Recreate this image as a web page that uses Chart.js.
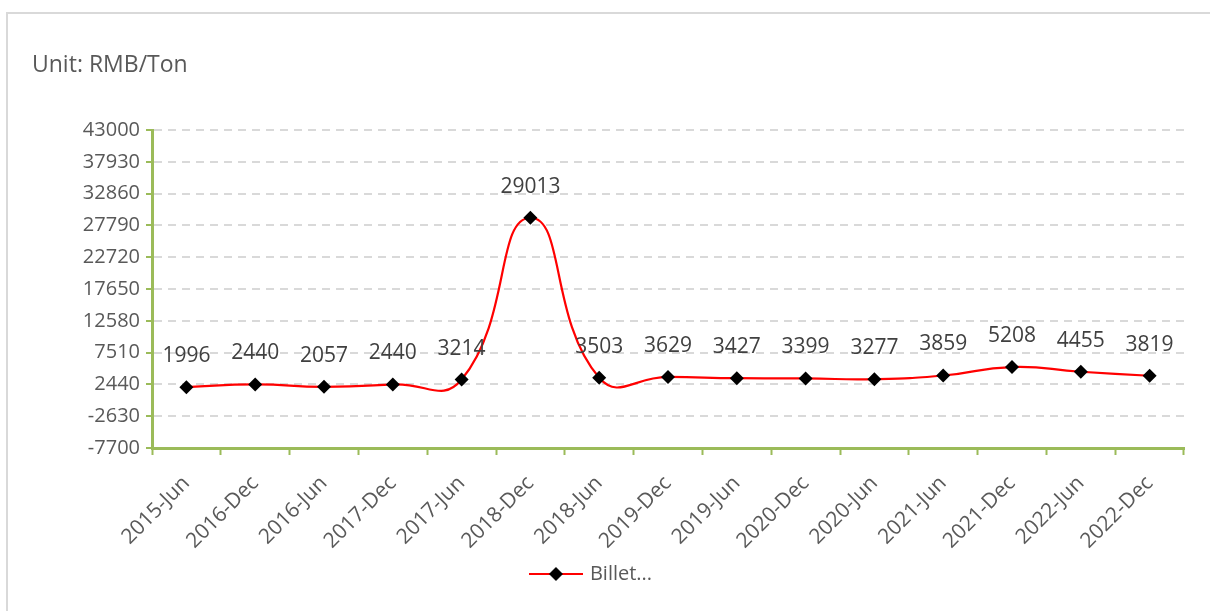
<!DOCTYPE html>
<html>
<head>
<meta charset="utf-8">
<script src="https://cdn.jsdelivr.net/npm/chart.js@4/dist/chart.umd.min.js"></script>
<style>
    html, body { margin: 0; padding: 0; background: #fff; overflow: hidden; }
    #frame { position: absolute; left: 6px; top: 12px; width: 1300px; height: 700px; border: 2px solid #d9d9d9; }
    #wrap { position: absolute; left: 0; top: 0; width: 1210px; height: 611px; }
</style>
</head>
<body>
<div id="frame"></div>
<div id="wrap"><canvas id="chart" width="1210" height="611"></canvas></div>
<script>
const categories = ["2015-Jun", "2016-Dec", "2016-Jun", "2017-Dec", "2017-Jun", "2018-Dec", "2018-Jun",
    "2019-Dec", "2019-Jun", "2020-Dec", "2020-Jun", "2021-Jun", "2021-Dec", "2022-Jun", "2022-Dec"];
const billetValues = [1996, 2440, 2057, 2440, 3214, 29013, 3503, 3629, 3427, 3399, 3277, 3859, 5208, 4455, 3819];
const yTicks = [-7700, -2630, 2440, 7510, 12580, 17650, 22720, 27790, 32860, 37930, 43000];
const seriesName = "Billet...";
const unitText = "Unit: RMB/Ton";

const FONT = "'Open Sans', sans-serif";
const TEXT = "#595959";
const AXIS = "#9bbb59";

// legend symbol: red line with black diamond
function legendSymbol() {
    const c = document.createElement("canvas");
    c.width = 54;
    c.height = 16;
    const ctx = c.getContext("2d");
    ctx.strokeStyle = "#ff0000";
    ctx.lineWidth = 2;
    ctx.beginPath();
    ctx.moveTo(0, 8);
    ctx.lineTo(54, 8);
    ctx.stroke();
    ctx.fillStyle = "#000";
    ctx.beginPath();
    ctx.moveTo(27, 1);
    ctx.lineTo(34, 8);
    ctx.lineTo(27, 15);
    ctx.lineTo(20, 8);
    ctx.closePath();
    ctx.fill();
    return c;
}

const extras = {
    id: "extras",
    afterDatasetsDraw(chart) {
        const ctx = chart.ctx;
        ctx.save();
        ctx.fillStyle = TEXT;
        ctx.font = "23px " + FONT;
        ctx.textAlign = "left";
        ctx.textBaseline = "middle";
        ctx.fillText(unitText, 32, 65);

        ctx.fillStyle = "#404040";
        ctx.font = "21px " + FONT;
        ctx.textAlign = "center";
        const meta = chart.getDatasetMeta(0);
        meta.data.forEach((pt, i) => {
            ctx.fillText(String(billetValues[i]), pt.x, pt.y - 31);
        });
        ctx.restore();
    }
};

function displayChart() {
    const el = document.getElementById("chart");
    const config = {
        type: "line",
        data: {
            labels: categories,
            datasets: [{
                label: seriesName,
                data: billetValues,
                borderColor: "#ff0000",
                borderWidth: 2.2,
                tension: 0.5,
                pointStyle: "rectRot",
                pointRadius: 7,
                pointHoverRadius: 7,
                pointBackgroundColor: "#000",
                pointBorderColor: "#000",
                pointBorderWidth: 0,
                clip: false
            }]
        },
        options: {
            responsive: false,
            animation: false,
            layout: { padding: { top: 130, right: 26, left: 0, bottom: 17 } },
            plugins: {
                legend: {
                    position: "bottom",
                    labels: {
                        usePointStyle: true,
                        pointStyle: legendSymbol(),
                        pointStyleWidth: 48,
                        color: TEXT,
                        font: { family: FONT, size: 20 },
                        padding: 10
                    }
                },
                tooltip: { enabled: false }
            },
            scales: {
                x: {
                    offset: true,
                    afterFit(s) { s.height = 106; },
                    grid: {
                        offset: true,
                        drawOnChartArea: false,
                        drawTicks: true,
                        tickLength: 7,
                        tickColor: AXIS,
                        tickWidth: 2
                    },
                    border: { display: true, color: AXIS, width: 3 },
                    ticks: {
                        color: TEXT,
                        font: { family: FONT, size: 21 },
                        maxRotation: 45,
                        minRotation: 45,
                        autoSkip: false,
                        padding: 16
                    }
                },
                y: {
                    min: -7700,
                    max: 43000,
                    afterFit(s) { s.width = 152; },
                    afterBuildTicks(s) { s.ticks = yTicks.map(v => ({ value: v })); },
                    grid: {
                        color: "#d9d9d9",
                        lineWidth: 2,
                        drawTicks: true,
                        tickLength: 6,
                        tickColor: AXIS,
                        tickWidth: 2,
                        tickBorderDash: []
                    },
                    border: { display: true, color: AXIS, width: 3, dash: [8, 6] },
                    ticks: {
                        color: TEXT,
                        font: { family: FONT, size: 20 },
                        padding: 6,
                        callback: v => String(v)
                    }
                }
            }
        },
        plugins: [extras]
    };
    new Chart(el, config);
}
displayChart();
</script>
</body>
</html>
